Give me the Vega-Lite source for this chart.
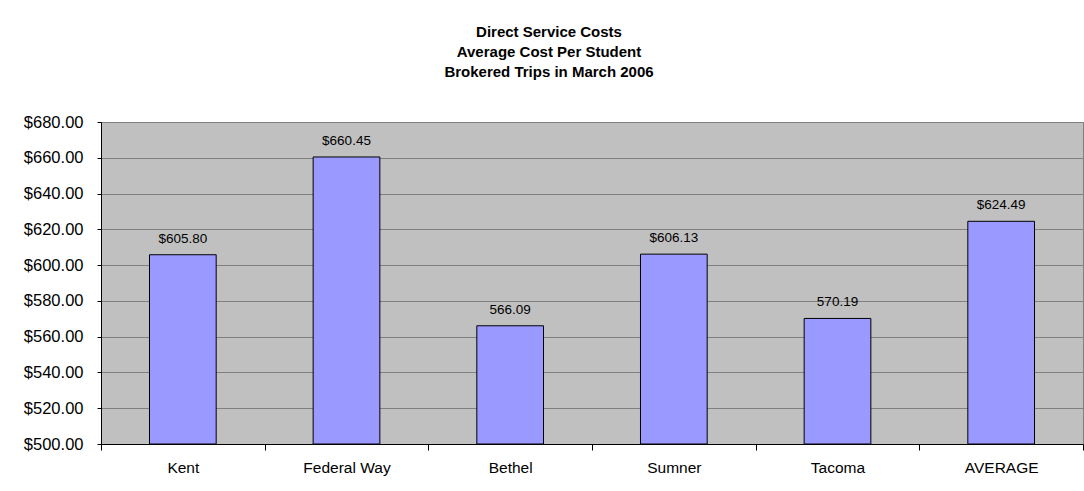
{
  "$schema": "https://vega.github.io/schema/vega-lite/v6.json",
  "width": 982,
  "height": 322,
  "autosize": {"type": "none"},
  "padding": {"left": 101, "top": 122, "right": 1, "bottom": 47},
  "background": "white",
  "title": {
    "text": ["Direct Service Costs", "Average Cost Per Student", "Brokered Trips in March 2006"],
    "font": "Liberation Sans",
    "fontSize": 15,
    "fontWeight": "bold",
    "lineHeight": 20,
    "anchor": "middle",
    "dx": -43,
    "offset": 34,
    "color": "black"
  },
  "data": {
    "values": [
      {"site": "Kent", "cost": 605.80, "label": "$605.80"},
      {"site": "Federal Way", "cost": 660.45, "label": "$660.45"},
      {"site": "Bethel", "cost": 566.09, "label": "566.09"},
      {"site": "Sumner", "cost": 606.13, "label": "$606.13"},
      {"site": "Tacoma", "cost": 570.19, "label": "570.19"},
      {"site": "AVERAGE", "cost": 624.49, "label": "$624.49"}
    ]
  },
  "encoding": {
    "x": {
      "field": "site",
      "type": "nominal",
      "sort": null,
      "scale": {"paddingInner": 0, "paddingOuter": 0},
      "axis": {
        "title": null,
        "labelAngle": 0,
        "grid": false,
        "tickBand": "extent",
        "domainColor": "black",
        "tickColor": "black",
        "tickSize": 6,
        "labelPadding": 10,
        "labelOverlap": false,
        "labelFont": "Liberation Sans",
        "labelFontSize": 15.5,
        "labelColor": "black"
      }
    }
  },
  "layer": [
    {
      "mark": {"type": "bar", "width": {"band": 0.4075}, "fill": "#9999FF", "stroke": "black", "strokeWidth": 1},
      "encoding": {
        "y": {
          "field": "cost",
          "type": "quantitative",
          "scale": {"domain": [500, 680], "nice": false, "zero": false},
          "axis": {
            "title": null,
            "values": [500, 520, 540, 560, 580, 600, 620, 640, 660, 680],
            "tickCount": 10,
            "format": "$,.2f",
            "grid": true,
            "gridColor": "#808080",
            "gridWidth": 1,
            "domainColor": "black",
            "tickColor": "black",
            "tickSize": 4,
            "labelPadding": 14,
            "labelOverlap": false,
            "labelFont": "Liberation Sans",
            "labelFontSize": 16.5,
            "labelColor": "black"
          }
        },
        "y2": {"datum": 500}
      }
    },
    {
      "mark": {"type": "text", "baseline": "alphabetic", "dy": -12, "font": "Liberation Sans", "fontSize": 13.5, "color": "black"},
      "encoding": {
        "y": {"field": "cost", "type": "quantitative"},
        "text": {"field": "label"}
      }
    }
  ],
  "config": {
    "view": {"fill": "#C0C0C0", "stroke": "#808080"}
  }
}
